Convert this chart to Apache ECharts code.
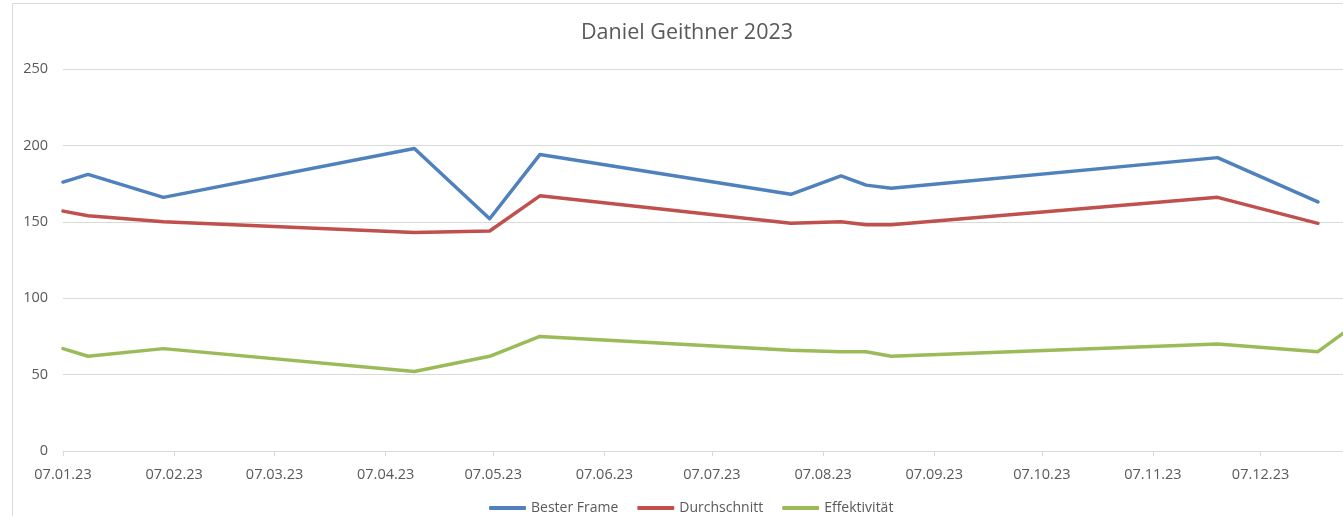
<!DOCTYPE html>
<html>
<head>
<meta charset="utf-8">
<title>Daniel Geithner 2023</title>
<script src="https://cdn.jsdelivr.net/npm/echarts@6/dist/echarts.min.js"></script>
<style>
  html, body { margin: 0; padding: 0; background: #fff; }
  #chart { width: 1343px; height: 516px; }
</style>
</head>
<body>
<div id="chart"></div>
<script>
// dates (dd.mm.yy), all Saturdays
var dates = [
  "07.01.23", "14.01.23", "04.02.23", "15.04.23", "06.05.23", "20.05.23",
  "29.07.23", "12.08.23", "19.08.23", "26.08.23", "25.11.23", "23.12.23",
  "30.12.23",
];
var besterFrame = [176, 181, 166, 198, 152, 194, 168, 180, 174, 172, 192, 163, null];
var durchschnitt = [157, 154, 150, 143, 144, 167, 149, 150, 148, 148, 166, 149, null];
var effektivitaet = [67, 62, 67, 52, 62, 75, 66, 65, 65, 62, 70, 65, 77];

var tickLabels = [
  "07.01.23", "07.02.23", "07.03.23", "07.04.23", "07.05.23", "07.06.23",
  "07.07.23", "07.08.23", "07.09.23", "07.10.23", "07.11.23", "07.12.23",
];

function toTime(s) {
  var p = s.split(".");
  return Date.UTC(2000 + Number(p[2]), Number(p[1]) - 1, Number(p[0]));
}
function pad(n) {
  return (n < 10 ? "0" : "") + n;
}
function fmt(t) {
  var d = new Date(t);
  return pad(d.getUTCDate()) + "." + pad(d.getUTCMonth() + 1) + "." + pad(d.getUTCFullYear() % 100);
}

var times = dates.map(toTime);
var tickTimes = tickLabels.map(toTime);

function pairs(values) {
  return times.map(function (t, i) {
    return [t, values[i]];
  });
}

var chart = echarts.init(document.getElementById("chart"));
var font = "'Open Sans', 'Noto Sans', sans-serif";
var textColor = "#595959";

var lineStyle = function (color) {
  return { color: color, width: 3.5, cap: "round", join: "round" };
};

var option = {
  animation: false,
  textStyle: { fontFamily: font },
  graphic: [
    {
      type: "rect",
      shape: { x: 12.5, y: 3.5, width: 2000, height: 2000 },
      style: { fill: "none", stroke: "#d9d9d9", lineWidth: 1 },
      silent: true,
    },
  ],
  title: {
    text: "Daniel Geithner 2023",
    left: 581,
    top: 22,
    padding: 0,
    textStyle: { fontFamily: font, fontSize: 21.5, fontWeight: "normal", color: textColor },
  },
  legend: {
    left: 489,
    top: 501,
    padding: 0,
    icon: "roundRect",
    itemWidth: 37,
    itemHeight: 4,
    itemGap: 19,
    textStyle: { fontFamily: font, fontSize: 14, color: textColor },
    data: ["Bester Frame", "Durchschnitt", "Effektivität"],
  },
  grid: { left: 63, right: 0, top: 69, bottom: 65, containLabel: false },
  xAxis: {
    type: "value",
    min: toTime("07.01.23"),
    max: toTime("30.12.23"),
    axisLine: { show: true, lineStyle: { color: "#d9d9d9", width: 1 } },
    axisTick: {
      show: true,
      length: 5,
      customValues: tickTimes,
      lineStyle: { color: "#d9d9d9" },
    },
    axisLabel: {
      customValues: tickTimes,
      formatter: function (v) {
        return fmt(v);
      },
      margin: 16,
      fontSize: 14.5,
      fontFamily: font,
      color: textColor,
      showMinLabel: true,
      showMaxLabel: true,
    },
    splitLine: { show: false },
  },
  yAxis: {
    type: "value",
    min: 0,
    max: 250,
    interval: 50,
    axisLine: { show: false },
    axisTick: { show: false },
    axisLabel: { margin: 15, fontSize: 14.5, fontFamily: font, color: textColor },
    splitLine: { lineStyle: { color: "#d9d9d9", width: 1 } },
  },
  series: [
    {
      name: "Bester Frame",
      type: "line",
      symbol: "none",
      color: "#4f81bd",
      lineStyle: lineStyle("#4f81bd"),
      data: pairs(besterFrame),
    },
    {
      name: "Durchschnitt",
      type: "line",
      symbol: "none",
      color: "#c0504d",
      lineStyle: lineStyle("#c0504d"),
      data: pairs(durchschnitt),
    },
    {
      name: "Effektivität",
      type: "line",
      symbol: "none",
      color: "#9bbb59",
      lineStyle: lineStyle("#9bbb59"),
      data: pairs(effektivitaet),
    },
  ],
};

chart.setOption(option);
</script>
</body>
</html>
